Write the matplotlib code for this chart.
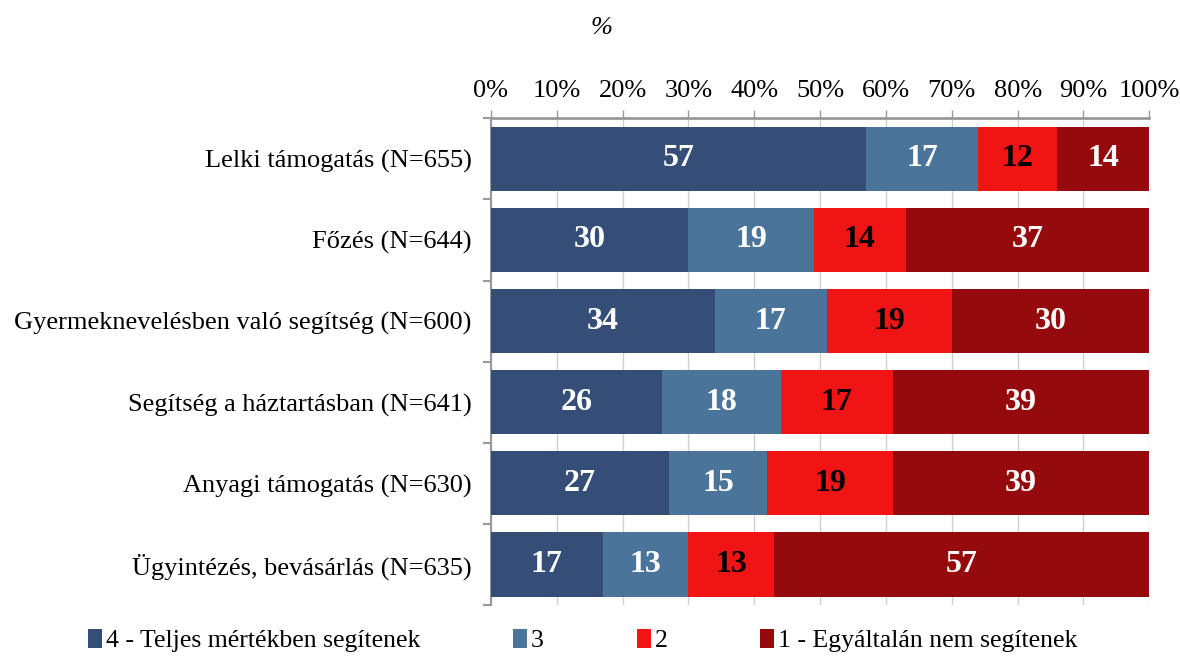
import numpy as np
import matplotlib.pyplot as plt
from matplotlib.ticker import FixedLocator, PercentFormatter

plt.rcParams['font.family'] = ['Liberation Serif', 'DejaVu Serif']

# --- Data ---
categories = [
    "Lelki támogatás (N=655)",
    "Főzés (N=644)",
    "Gyermeknevelésben való segítség (N=600)",
    "Segítség a háztartásban (N=641)",
    "Anyagi támogatás (N=630)",
    "Ügyintézés, bevásárlás (N=635)",
]
series_names = [
    "4 - Teljes mértékben segítenek",
    "3",
    "2",
    "1 - Egyáltalán nem segítenek",
]
val4 = [57, 30, 34, 26, 27, 17]
val3 = [17, 19, 17, 18, 15, 13]
val2 = [12, 14, 19, 17, 19, 13]
val1 = [14, 37, 30, 39, 39, 57]

colors = ['#344e78', '#4a7499', '#f01414', '#950a0c']
text_colors = ['white', 'white', 'black', 'white']

# --- Figure ---
fig = plt.figure(figsize=(11.8, 6.57), dpi=100)
ax = fig.add_axes([0.416, 0.079, 0.558, 0.741])

y = np.arange(len(categories))
left = np.zeros(len(categories))
handles = []
for vals, col, tcol, name in zip([val4, val3, val2, val1], colors, text_colors, series_names):
    bars = ax.barh(y, vals, left=left, height=0.79, color=col, label=name, zorder=3)
    handles.append(bars)
    for yi, (l, v) in enumerate(zip(left, vals)):
        ax.text(l + v / 2, yi, str(v), ha='center', va='center', color=tcol,
                fontsize=23, fontweight='bold', zorder=4)
    left += np.array(vals)

ax.set_xlim(0, 100)
ax.set_ylim(len(categories) - 0.5, -0.5)

# x axis on top
ax.xaxis.set_ticks_position('top')
ax.xaxis.set_label_position('top')
ax.set_xticks(np.arange(0, 101, 10))
ax.xaxis.set_major_formatter(PercentFormatter(decimals=0))
ax.tick_params(axis='x', direction='out', length=6, width=1, color='#999999',
               labelsize=19, pad=6)
ax.grid(axis='x', color='#d0d0d0', linewidth=1, zorder=0)

# y axis: labels at centres, tick marks at boundaries
ax.set_yticks(y)
ax.set_yticklabels(categories)
ax.tick_params(axis='y', which='major', length=0, labelsize=19, pad=14)
ax.yaxis.set_minor_locator(FixedLocator(np.arange(-0.5, len(categories), 1)))
ax.tick_params(axis='y', which='minor', direction='out', length=6, width=1.5, color='#999999')

for side in ['right', 'bottom']:
    ax.spines[side].set_visible(False)
ax.spines['top'].set_color('#999999')
ax.spines['top'].set_linewidth(2)
ax.spines['left'].set_color('#999999')
ax.spines['left'].set_linewidth(1.5)

fig.text(0.51, 0.957, '%', fontsize=19, style='italic', ha='center', va='center')

fig.legend(handles=handles, labels=series_names, loc='center left',
           bbox_to_anchor=(0.064, 0.025), ncol=4, frameon=False,
           prop={'family': 'Liberation Serif', 'size': 18.5},
           handlelength=0.55, handleheight=0.75, handletextpad=0.15, columnspacing=3.6,
           borderpad=0)

fig.savefig('out.png', dpi=100)
